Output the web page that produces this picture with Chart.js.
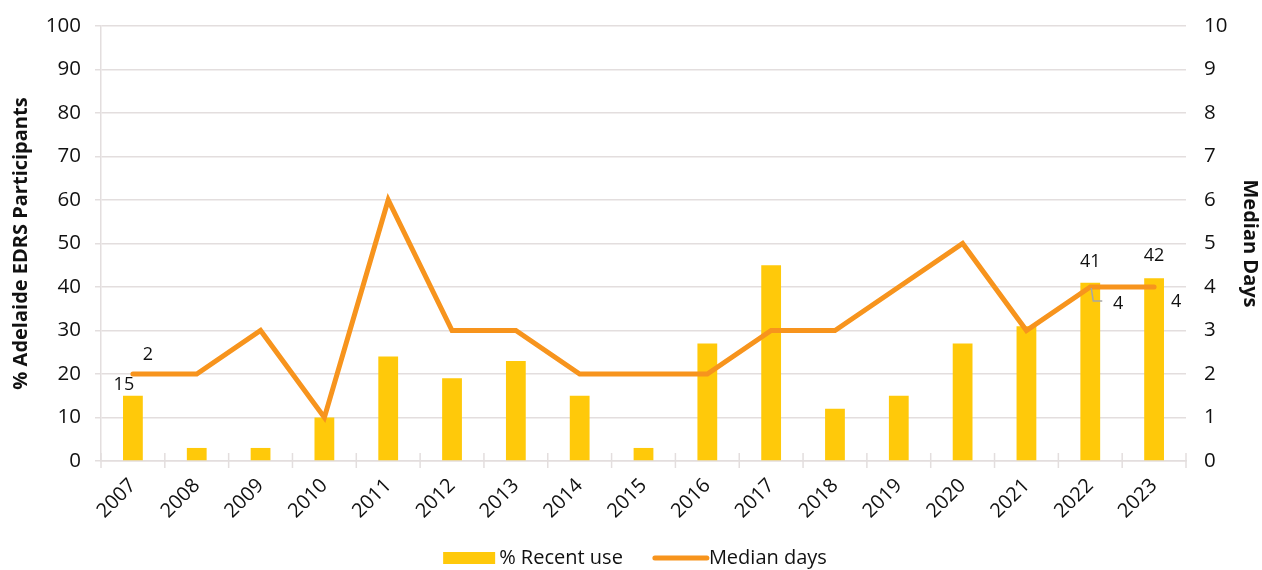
<!DOCTYPE html>
<html>
<head>
<meta charset="utf-8">
<title>Recent use and median days, Adelaide EDRS</title>
<script src="https://cdn.jsdelivr.net/npm/chart.js@4/dist/chart.umd.min.js"></script>
<style>
  html, body { margin: 0; padding: 0; background: #ffffff; }
  #wrap { width: 1262px; height: 570px; position: relative; }
</style>
</head>
<body>
<div id="wrap"><canvas id="chart" width="1262" height="570"></canvas></div>
<script>
// Survey years
const years = ['2007', '2008', '2009', '2010', '2011', '2012', '2013', '2014', '2015',
               '2016', '2017', '2018', '2019', '2020', '2021', '2022', '2023'];
// % of participants reporting recent use
const recentUse = [15, 3, 3, 10, 24, 19, 23, 15, 3, 27, 45, 12, 15, 27, 31, 41, 42];
// Median days of use
const medianDays = [2, 2, 3, 1, 6, 3, 3, 2, 2, 2, 3, 3, 4, 5, 3, 4, 4];
// Years whose values are printed on the chart
const labelledYears = ['2007', '2022', '2023'];
// Axis tick values
const leftTicks = [0, 10, 20, 30, 40, 50, 60, 70, 80, 90, 100];
const rightTicks = [0, 1, 2, 3, 4, 5, 6, 7, 8, 9, 10];

const BAR_COLOR = '#FFC90A';
const LINE_COLOR = '#F7941D';
const GRID_COLOR = '#E3DEDE';
const TEXT_COLOR = '#111111';
const FONT = '"Open Sans", "Noto Sans", sans-serif';

// Value labels next to the marks for the selected years
const valueLabels = {
  id: 'valueLabels',
  afterDatasetsDraw(chart) {
    const ctx = chart.ctx;
    const bars = chart.getDatasetMeta(0).data;
    const pts = chart.getDatasetMeta(1).data;
    ctx.save();
    ctx.font = '18px ' + FONT;
    ctx.fillStyle = TEXT_COLOR;
    ctx.textBaseline = 'middle';
    ctx.textAlign = 'center';
    labelledYears.forEach(yr => {
      const i = years.indexOf(yr);
      const bar = bars[i];
      const pt = pts[i];
      if (i === 0) {
        ctx.fillText(String(recentUse[i]), bar.x - 9, bar.y - 11);
        ctx.fillText(String(medianDays[i]), pt.x + 15, pt.y - 19);
      } else if (i === years.length - 2) {
        ctx.fillText(String(recentUse[i]), bar.x, bar.y - 21);
        // leader line from the point to its label
        ctx.strokeStyle = '#A6A6A6';
        ctx.lineWidth = 1.5;
        ctx.beginPath();
        ctx.moveTo(pt.x + 1, pt.y + 1);
        ctx.lineTo(pt.x + 3, pt.y + 14);
        ctx.lineTo(pt.x + 12, pt.y + 14);
        ctx.stroke();
        ctx.fillText(String(medianDays[i]), pt.x + 28, pt.y + 17);
      } else {
        ctx.fillText(String(recentUse[i]), bar.x, bar.y - 22);
        ctx.fillText(String(medianDays[i]), pt.x + 22, pt.y + 15);
      }
    });
    ctx.restore();
  }
};

// Tick marks on the category axis cross the axis line
const crossTicks = {
  id: 'crossTicks',
  afterDraw(chart) {
    const ctx = chart.ctx;
    const xs = chart.scales.x;
    const area = chart.chartArea;
    const n = years.length;
    ctx.save();
    ctx.strokeStyle = GRID_COLOR;
    ctx.lineWidth = 1.5;
    for (let k = 0; k <= n; k++) {
      const x = xs.getPixelForValue(k - 0.5);
      ctx.beginPath();
      ctx.moveTo(x, area.bottom - 8);
      ctx.lineTo(x, area.bottom + 7);
      ctx.stroke();
    }
    ctx.restore();
  }
};

// Legend centred beneath the axis labels
const bottomLegend = {
  id: 'bottomLegend',
  afterDraw(chart) {
    const ctx = chart.ctx;
    ctx.save();
    ctx.font = '20px ' + FONT;
    ctx.textBaseline = 'middle';
    const items = [
      { text: chart.data.datasets[0].label, kind: 'box' },
      { text: chart.data.datasets[1].label, kind: 'line' }
    ];
    const sw = 52, gap = 4, spacing = 30;
    let total = 0;
    items.forEach((it, i) => {
      it.w = ctx.measureText(it.text).width;
      total += sw + gap + it.w + (i < items.length - 1 ? spacing : 0);
    });
    let x = (chart.width - total) / 2 + 4;
    const y = 558;
    items.forEach(it => {
      if (it.kind === 'box') {
        ctx.fillStyle = BAR_COLOR;
        ctx.fillRect(x, y - 6, sw, 12);
      } else {
        ctx.strokeStyle = LINE_COLOR;
        ctx.lineWidth = 5;
        ctx.lineCap = 'round';
        ctx.beginPath();
        ctx.moveTo(x + 2, y);
        ctx.lineTo(x + sw + 2, y);
        ctx.stroke();
      }
      ctx.fillStyle = TEXT_COLOR;
      ctx.textAlign = 'left';
      ctx.fillText(it.text, x + sw + gap, y);
      x += sw + gap + it.w + spacing;
    });
    ctx.restore();
  }
};

// Fixed scale sizes, no extra room reserved for overhanging tick labels
function fixSize(w, h) {
  return function (s) {
    if (w !== null) s.width = w;
    if (h !== null) s.height = h;
    s.paddingTop = 0;
    s.paddingBottom = 0;
    s.paddingLeft = 0;
    s.paddingRight = 0;
  };
}

new Chart(document.getElementById('chart'), {
  data: {
    labels: years,
    datasets: [
      {
        type: 'bar',
        label: '% Recent use',
        data: recentUse,
        yAxisID: 'y',
        backgroundColor: BAR_COLOR,
        borderWidth: 0,
        categoryPercentage: 1,
        barPercentage: 0.31,
        order: 2
      },
      {
        type: 'line',
        label: 'Median days',
        data: medianDays,
        yAxisID: 'y1',
        borderColor: LINE_COLOR,
        backgroundColor: LINE_COLOR,
        borderWidth: 5,
        borderCapStyle: 'round',
        borderJoinStyle: 'miter',
        pointRadius: 0,
        tension: 0,
        order: 1
      }
    ]
  },
  options: {
    responsive: false,
    animation: false,
    layout: { padding: { top: 26, bottom: 0, left: 0, right: 0 } },
    plugins: {
      legend: { display: false },
      tooltip: { enabled: false }
    },
    scales: {
      x: {
        offset: true,
        grid: { display: false },
        border: { color: GRID_COLOR, width: 1.5 },
        ticks: {
          minRotation: 45, maxRotation: 45,
          color: TEXT_COLOR,
          font: { family: FONT, size: 20 },
          padding: 5
        },
        afterFit: fixSize(null, 109)
      },
      y: {
        position: 'left',
        min: 0, max: 100,
        afterBuildTicks(s) { s.ticks = leftTicks.map(v => ({ value: v })); },
        grid: { color: GRID_COLOR, lineWidth: 1.5, tickLength: 6 },
        border: { color: GRID_COLOR, width: 1.5 },
        ticks: {
          color: TEXT_COLOR,
          font: { family: FONT, size: 20.5 },
          padding: 14
        },
        title: {
          display: true,
          text: '% Adelaide EDRS Participants',
          color: TEXT_COLOR,
          font: { family: FONT, size: 20, weight: 'bold' },
          padding: { top: 9, bottom: 0 }
        },
        afterFit: fixSize(101, null)
      },
      y1: {
        position: 'right',
        min: 0, max: 10,
        afterBuildTicks(s) { s.ticks = rightTicks.map(v => ({ value: v })); },
        grid: { drawOnChartArea: false, drawTicks: false },
        border: { display: false },
        ticks: {
          color: TEXT_COLOR,
          font: { family: FONT, size: 20.5 },
          padding: 18
        },
        title: {
          display: true,
          text: 'Median Days',
          color: TEXT_COLOR,
          font: { family: FONT, size: 20, weight: 'bold' },
          padding: { top: 0, bottom: 0 }
        },
        afterFit: fixSize(76, null)
      }
    }
  },
  plugins: [valueLabels, crossTicks, bottomLegend]
});
</script>
</body>
</html>
